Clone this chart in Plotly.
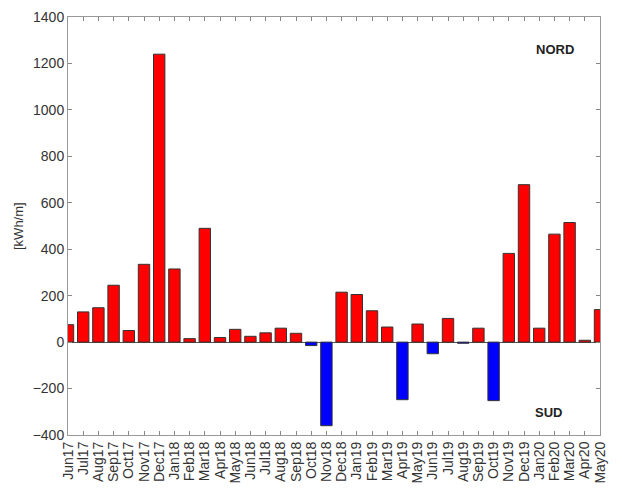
import plotly.graph_objects as go

months = ["Jun17","Jul17","Aug17","Sep17","Oct17","Nov17","Dec17","Jan18","Feb18","Mar18",
          "Apr18","May18","Jun18","Jul18","Aug18","Sep18","Oct18","Nov18","Dec18","Jan19",
          "Feb19","Mar19","Apr19","May19","Jun19","Jul19","Aug19","Sep19","Oct19","Nov19",
          "Dec19","Jan20","Feb20","Mar20","Apr20","May20"]
values = [75, 130, 148, 245, 50, 335, 1240, 315, 15, 490,
          20, 55, 25, 40, 60, 38, -15, -360, 215, 205,
          135, 65, -248, 78, -50, 102, -5, 60, -252, 382,
          678, 60, 465, 515, 8, 140]
y_ticks = [-400, -200, 0, 200, 400, 600, 800, 1000, 1200, 1400]

colors = ["#ff0000" if v >= 0 else "#0000ff" for v in values]
idx = list(range(len(months)))

fig = go.Figure(go.Bar(
    x=idx, y=values, marker=dict(color=colors, line=dict(color="#333333", width=1)),
    width=0.75,
))
fig.update_layout(
    width=622, height=492,
    margin=dict(l=60, r=30, t=9, b=65),
    plot_bgcolor="white", paper_bgcolor="white",
    showlegend=False,
    font=dict(family="Liberation Sans, Arial, sans-serif", size=14, color="#333333"),
    annotations=[
        dict(text="<b>NORD</b>", x=0.915, y=0.923, xref="paper", yref="paper", showarrow=False,
             xanchor="center", yanchor="middle", font=dict(size=13, color="#222222")),
        dict(text="<b>SUD</b>", x=0.904, y=0.055, xref="paper", yref="paper", showarrow=False,
             xanchor="center", yanchor="middle", font=dict(size=13, color="#222222")),
        dict(text="[kWh/m]", x=-0.094, y=0.5, xref="paper", yref="paper", showarrow=False,
             xanchor="center", yanchor="middle",
             textangle=-90, font=dict(size=13, color="#333333")),
    ],
)
fig.update_xaxes(
    range=[0, len(months) - 1], tickmode="array", tickvals=idx, ticktext=months,
    tickangle=-90, ticks="inside", ticklen=4, tickcolor="#888888",
    showline=True, linecolor="#999999", linewidth=1, mirror="ticks",
    showgrid=False, zeroline=False, tickfont=dict(size=14), automargin=False,
)
fig.update_yaxes(
    range=[-400, 1400], tickvals=y_ticks, ticks="inside", ticklen=4, tickcolor="#888888",
    showline=True, linecolor="#999999", linewidth=1, mirror="ticks",
    showgrid=False, zeroline=True, zerolinecolor="#555555", zerolinewidth=1,
    tickfont=dict(size=14), automargin=False,
)
fig.write_html("out.html")
